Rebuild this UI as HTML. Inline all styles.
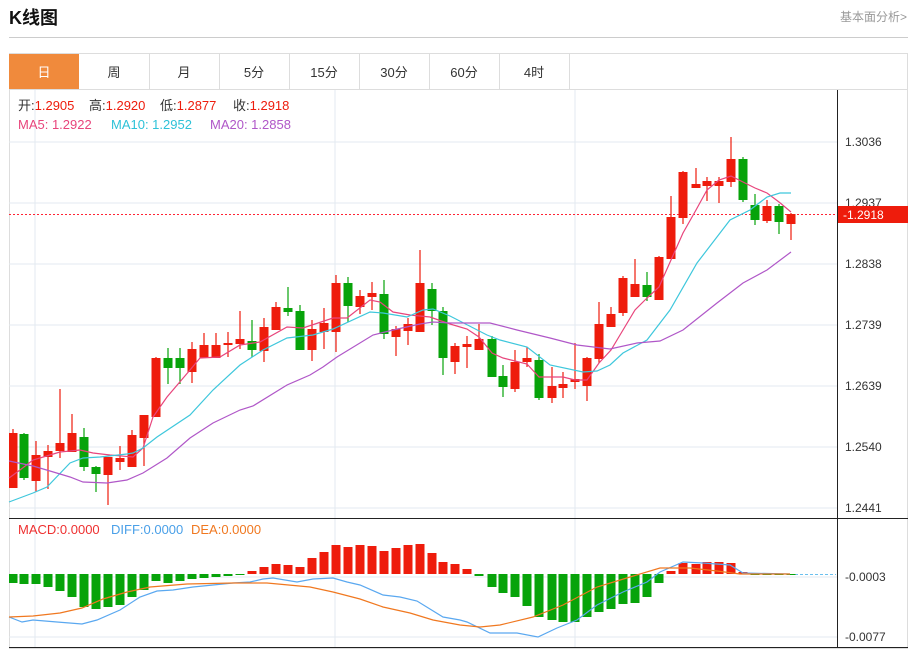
<!DOCTYPE html>
<html><head><meta charset="utf-8">
<style>
body{margin:0;background:#fff;width:914px;height:650px;overflow:hidden;font-family:"Liberation Sans","Noto Sans CJK SC",sans-serif;}
svg text{font-family:"Liberation Sans","Noto Sans CJK SC",sans-serif;}
</style></head><body>
<svg id="s" width="914" height="650" xmlns="http://www.w3.org/2000/svg">
<text x="9" y="24" font-size="18" font-weight="bold" fill="#111">K线图</text>
<text x="840" y="21" font-size="12" fill="#999">基本面分析&gt;</text>
<line x1="9" y1="37.5" x2="908" y2="37.5" stroke="#ccc"/>
<rect x="9.5" y="53.5" width="898" height="595" fill="none" stroke="#ddd"/>
<rect x="9" y="54" width="70" height="35" fill="#f08a3c"/>
<g stroke="#ddd"><line x1="149.5" y1="54" x2="149.5" y2="89"/><line x1="219.5" y1="54" x2="219.5" y2="89"/><line x1="289.5" y1="54" x2="289.5" y2="89"/><line x1="359.5" y1="54" x2="359.5" y2="89"/><line x1="429.5" y1="54" x2="429.5" y2="89"/><line x1="499.5" y1="54" x2="499.5" y2="89"/><line x1="569.5" y1="54" x2="569.5" y2="89"/><line x1="9" y1="89.5" x2="908" y2="89.5"/></g>
<g font-size="13" text-anchor="middle" fill="#333"><text x="44" y="77" fill="#fff">日</text><text x="114" y="77">周</text><text x="184" y="77">月</text><text x="254" y="77">5分</text><text x="324" y="77">15分</text><text x="394" y="77">30分</text><text x="464" y="77">60分</text><text x="534" y="77">4时</text></g>
<g stroke="#e3eaf0"><line x1="9" y1="142" x2="837" y2="142"/><line x1="9" y1="203" x2="837" y2="203"/><line x1="9" y1="264" x2="837" y2="264"/><line x1="9" y1="325" x2="837" y2="325"/><line x1="9" y1="386" x2="837" y2="386"/><line x1="9" y1="447" x2="837" y2="447"/><line x1="9" y1="508" x2="837" y2="508"/><line x1="35" y1="90" x2="35" y2="648"/><line x1="335" y1="90" x2="335" y2="648"/><line x1="575" y1="90" x2="575" y2="648"/><line x1="9" y1="577" x2="837" y2="577"/><line x1="9" y1="637" x2="837" y2="637"/></g>
<line x1="837.5" y1="90" x2="837.5" y2="648" stroke="#222"/>
<line x1="9" y1="518.5" x2="908" y2="518.5" stroke="#222"/>
<line x1="9" y1="647.5" x2="908" y2="647.5" stroke="#222"/>
<g font-size="12" fill="#333"><text x="845" y="146">1.3036</text><text x="845" y="207">1.2937</text><text x="845" y="268">1.2838</text><text x="845" y="329">1.2739</text><text x="845" y="390">1.2639</text><text x="845" y="451">1.2540</text><text x="845" y="512">1.2441</text><text x="845" y="581">-0.0003</text><text x="845" y="641">-0.0077</text></g>
<line x1="9" y1="214.5" x2="837" y2="214.5" stroke="#f23" stroke-dasharray="2,2"/>
<rect x="838" y="206" width="70" height="17" fill="#ee1c0c"/>
<text x="843" y="219" font-size="12" fill="#fff">-1.2918</text>
<g font-size="13">
<text x="18" y="110" fill="#333">开:<tspan fill="#ee1c0c">1.2905</tspan></text>
<text x="89" y="110" fill="#333">高:<tspan fill="#ee1c0c">1.2920</tspan></text>
<text x="160" y="110" fill="#333">低:<tspan fill="#ee1c0c">1.2877</tspan></text>
<text x="233" y="110" fill="#333">收:<tspan fill="#ee1c0c">1.2918</tspan></text>
<text x="18" y="129" fill="#e8457c">MA5: 1.2922</text>
<text x="111" y="129" fill="#2ec2d8">MA10: 1.2952</text>
<text x="210" y="129" fill="#b057c8">MA20: 1.2858</text>
<text x="18" y="534" fill="#ee3030">MACD:0.0000</text>
<text x="111" y="534" fill="#4aa0e8">DIFF:0.0000</text>
<text x="191" y="534" fill="#f07820">DEA:0.0000</text></g>
<line x1="790" y1="574.5" x2="836" y2="574.5" stroke="#6bc0ee" stroke-dasharray="3,2"/>
<g id="c"></g>
</svg>
<script>
var C=[[13,433,488,429,488,'r'],[24,434,478,433,480,'g'],[36,455,481,441,492,'r'],[48,451,457,445,489,'r'],[60,443,451,389,458,'r'],[72,433,452,414,452,'r'],[84,437,467,428,471,'g'],[96,467,474,466,492,'g'],[108,457,475,458,505,'r'],[120,458,462,446,470,'r'],[132,435,467,430,467,'r'],[144,415,438,415,466,'r'],[156,358,417,357,417,'r'],[168,358,368,348,384,'g'],[180,358,368,348,384,'g'],[192,349,372,342,383,'r'],[204,345,358,333,358,'r'],[216,345,358,333,358,'r'],[228,343,345,332,357,'r'],[240,339,344,311,349,'r'],[252,341,350,320,357,'g'],[264,327,351,318,362,'r'],[276,307,330,302,330,'r'],[288,308,312,287,316,'g'],[300,311,350,305,350,'g'],[312,329,350,320,361,'r'],[324,323,332,308,349,'r'],[336,283,332,275,352,'r'],[348,283,306,277,322,'g'],[360,296,307,290,314,'r'],[372,293,297,282,310,'r'],[384,294,334,280,339,'g'],[396,329,337,326,356,'r'],[408,324,331,318,345,'r'],[420,283,332,250,332,'r'],[432,289,311,283,325,'g'],[443,311,358,307,375,'g'],[455,346,362,343,374,'r'],[467,344,347,336,368,'r'],[479,339,350,324,350,'r'],[492,339,377,336,377,'g'],[503,376,387,365,397,'g'],[515,362,389,350,392,'r'],[527,358,362,347,367,'r'],[539,360,398,354,400,'g'],[552,386,398,367,403,'r'],[563,384,388,372,398,'r'],[575,379,382,343,389,'r'],[587,358,386,357,401,'r'],[599,324,359,302,363,'r'],[611,314,327,307,327,'r'],[623,278,313,276,316,'r'],[635,284,297,259,297,'r'],[647,285,297,272,301,'g'],[659,257,300,256,300,'r'],[671,217,259,196,259,'r'],[683,172,218,171,224,'r'],[696,184,188,168,188,'r'],[707,181,186,177,201,'r'],[719,181,186,177,203,'r'],[731,159,182,137,187,'r'],[743,159,200,157,202,'g'],[755,205,220,194,225,'g'],[767,206,221,200,223,'r'],[779,206,222,204,234,'g'],[791,214,224,213,240,'r']];
var M=[583,584,584,587,591,597,607,609,607,605,597,590,581,583,581,579,578,577,576,575,571,567,564,565,567,558,552,545,547,545,546,551,548,545,544,553,562,564,569,576,587,593,597,606,617,620,622,622,617,612,609,604,603,597,583,571,563,564,562,562,563,572,575,575,574,575];
var R='#ee1c0c',G='#07a30a',h='';
C.forEach(function(c,i){var col=c[5]=='r'?R:G,x=Math.max(c[0]-4.5,9),w=c[0]+4.5-x;
h+='<line x1="'+c[0]+'" y1="'+c[3]+'" x2="'+c[0]+'" y2="'+c[4]+'" stroke="'+col+'" stroke-width="1.2"/>';
h+='<rect x="'+x+'" y="'+c[1]+'" width="'+w+'" height="'+Math.max(c[2]-c[1],2)+'" fill="'+col+'"/>';
var m=M[i],top=Math.min(m,574),ht=Math.abs(m-574);if(ht<1)ht=1;
h+='<rect x="'+x+'" y="'+top+'" width="'+w+'" height="'+ht+'" fill="'+(m<574?R:G)+'"/>';});
function pl(p,col){return '<polyline fill="none" stroke="'+col+'" stroke-width="1.2" points="'+p+'"/>';}
h+=pl('9,478 20,470 33,460 50,455 60,452 80,450 93,453 110,455 133,457 143,448 153,417 167,397 190,370 200,358 220,357 240,345 260,342 287,327 303,328 333,318 347,318 370,300 380,302 393,312 410,315 430,317 450,324 467,329 479,337 492,353 503,358 515,361 527,364 539,377 552,377 563,377 575,380 587,380 599,363 611,350 623,330 635,310 647,298 659,287 671,260 683,233 696,210 707,190 719,180 731,176 743,182 755,188 767,193 779,202 791,212','#e8457c');
h+=pl('9,502 33,493 47,487 70,463 83,458 100,457 127,454 133,453 143,448 157,437 190,415 213,390 240,365 263,350 287,338 313,335 333,329 370,312 383,313 407,317 423,310 433,309 450,316 487,335 500,340 527,347 550,365 583,372 597,371 610,365 623,353 647,340 670,310 697,263 730,220 750,210 767,197 780,193 791,193','#3ec7dc');
h+=pl('9,461 33,466 50,471 70,477 83,482 107,483 127,480 143,473 167,458 190,438 213,423 240,410 253,406 287,385 310,375 323,367 337,357 373,335 393,330 420,324 433,322 450,323 490,323 517,330 550,338 577,345 610,349 637,343 660,341 683,330 717,303 743,283 767,270 791,252','#b057c8');
h+=pl('9,617 22,622 33,620 57,622 82,624 97,620 120,610 140,597 157,591 173,590 193,587 233,583 250,582 263,579 273,578 297,582 313,579 333,578 347,582 360,585 383,595 400,597 417,601 443,617 460,620 467,622 490,633 517,633 538,637 557,628 577,620 597,605 623,592 647,582 660,572 683,562 703,563 730,565 743,573 790,574','#5aa8f0');
h+=pl('9,617 33,616 60,613 82,608 103,599 127,592 150,587 187,584 233,583 267,583 310,587 333,592 360,599 383,607 410,613 433,620 460,625 480,627 500,625 533,617 563,605 597,587 630,577 660,568 690,568 717,571 740,574 790,574','#f07820');
document.getElementById('c').innerHTML=h;
</script>
</body></html>
